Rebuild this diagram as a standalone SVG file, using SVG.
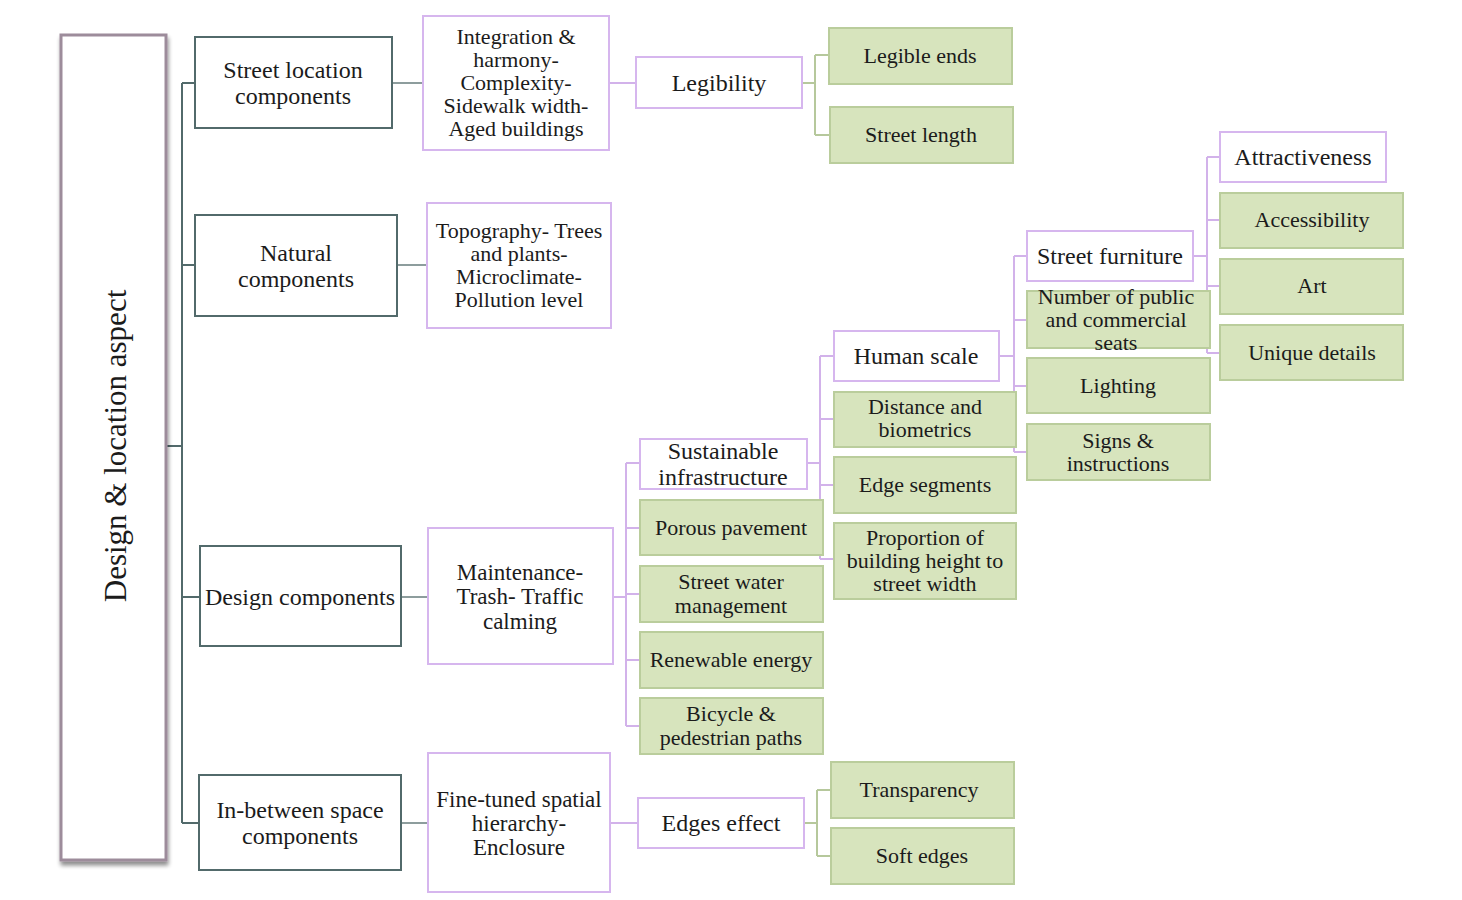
<svg xmlns="http://www.w3.org/2000/svg" width="1462" height="900" viewBox="0 0 1462 900">
<defs>
<filter id="sh" x="-10%" y="-5%" width="130%" height="110%">
<feGaussianBlur in="SourceAlpha" stdDeviation="2"/>
<feOffset dx="1" dy="4" result="o"/>
<feComponentTransfer><feFuncA type="linear" slope="0.45"/></feComponentTransfer>
<feMerge><feMergeNode/><feMergeNode in="SourceGraphic"/></feMerge>
</filter>
</defs>
<style>
text{font-family:"Liberation Serif","Times New Roman",serif;fill:#1b1b1b;text-anchor:middle}
.root{fill:#fff;stroke:#9d8c9b;stroke-width:3}
.l1{fill:#fff;stroke:#526a6b;stroke-width:2}
.pu{fill:#fff;stroke:#d6b6ee;stroke-width:2}
.gr{fill:#d7e4bd;stroke:#bacd9c;stroke-width:2}
.f31{font-size:31px}
.f24{font-size:24px}
.f23{font-size:23px}
.f22{font-size:22px}
.c0{fill:none;stroke:#526a6b;stroke-width:2}
.c1{fill:none;stroke:#8d9d9d;stroke-width:2}
.cp{fill:none;stroke:#d2b2ea;stroke-width:2}
.cg{fill:none;stroke:#b6c89c;stroke-width:2}
</style>
<rect width="1462" height="900" fill="#fff"/>

<g id="connectors">
<path class="c0" d="M166 446H182M182 83V823M182 83H195M182 265H195M182 597H200M182 823H199"/>
<path class="c1" d="M392 83H423M397 265H427M401 597H428M401 823H428"/>
<path class="cp" d="M609 83H636M610 823H638"/>
<path class="cg" d="M802 83H815M815 55V135M815 55H829M815 135H830"/>
<path class="cg" d="M804 823H817M817 790V856M817 790H831M817 856H831"/>
<path class="cp" d="M613 597H626M626 463V726M626 463H640M626 528H640M626 594H640M626 660H640M626 726H640"/>
<path class="cp" d="M807 463H820M820 356V559M820 356H834M820 419H834M820 485H834M820 559H834"/>
<path class="cp" d="M999 356H1014M1014 256V452M1014 256H1027M1014 320H1027M1014 386H1027M1014 452H1027"/>
<path class="cp" d="M1193 256H1207M1207 157V353M1207 157H1220M1207 220H1220M1207 286H1220M1207 353H1220"/>
</g>

<g id="root">
<rect class="root" x="61" y="35" width="105" height="825" filter="url(#sh)"/>
<text class="f31" x="115" y="457" transform="rotate(-90 115 446)">Design &amp; location aspect</text>
</g>

<g id="street-location">
<rect class="l1" x="195" y="37" width="197" height="91"/>
<text class="f24" x="293" y="78">Street location</text>
<text class="f24" x="293" y="104">components</text>
</g>
<g id="natural">
<rect class="l1" x="195" y="215" width="202" height="101"/>
<text class="f24" x="296" y="261">Natural</text>
<text class="f24" x="296" y="287">components</text>
</g>
<g id="design">
<rect class="l1" x="200" y="546" width="201" height="100"/>
<text class="f24" x="300" y="605">Design components</text>
</g>
<g id="inbetween">
<rect class="l1" x="199" y="775" width="202" height="95"/>
<text class="f24" x="300" y="818">In-between space</text>
<text class="f24" x="300" y="844">components</text>
</g>

<g id="integration">
<rect class="pu" x="423" y="16" width="186" height="134"/>
<text class="f22" x="516" y="44">Integration &amp;</text>
<text class="f22" x="516" y="67">harmony-</text>
<text class="f22" x="516" y="90">Complexity-</text>
<text class="f22" x="516" y="113">Sidewalk width-</text>
<text class="f22" x="516" y="136">Aged buildings</text>
</g>
<g id="topography">
<rect class="pu" x="427" y="203" width="184" height="125"/>
<text class="f22" x="519" y="238">Topography- Trees</text>
<text class="f22" x="519" y="261">and plants-</text>
<text class="f22" x="519" y="284">Microclimate-</text>
<text class="f22" x="519" y="307">Pollution level</text>
</g>
<g id="maintenance">
<rect class="pu" x="428" y="528" width="185" height="136"/>
<text class="f23" x="520" y="580">Maintenance-</text>
<text class="f23" x="520" y="604">Trash- Traffic</text>
<text class="f23" x="520" y="629">calming</text>
</g>
<g id="finetuned">
<rect class="pu" x="428" y="753" width="182" height="139"/>
<text class="f23" x="519" y="807">Fine-tuned spatial</text>
<text class="f23" x="519" y="831">hierarchy-</text>
<text class="f23" x="519" y="855">Enclosure</text>
</g>

<g id="legibility">
<rect class="pu" x="636" y="57" width="166" height="51"/>
<text class="f24" x="719" y="91">Legibility</text>
</g>
<g id="legible-ends">
<rect class="gr" x="829" y="28" width="183" height="56"/>
<text class="f22" x="920" y="63">Legible ends</text>
</g>
<g id="street-length">
<rect class="gr" x="830" y="107" width="183" height="56"/>
<text class="f22" x="921" y="142">Street length</text>
</g>

<g id="edges-effect">
<rect class="pu" x="638" y="798" width="166" height="50"/>
<text class="f24" x="721" y="831">Edges effect</text>
</g>
<g id="transparency">
<rect class="gr" x="831" y="762" width="183" height="56"/>
<text class="f22" x="919" y="797">Transparency</text>
</g>
<g id="soft-edges">
<rect class="gr" x="831" y="828" width="183" height="56"/>
<text class="f22" x="922" y="863">Soft edges</text>
</g>

<g id="sustainable">
<rect class="pu" x="640" y="439" width="167" height="50"/>
<text class="f24" x="723" y="459">Sustainable</text>
<text class="f24" x="723" y="485">infrastructure</text>
</g>
<g id="porous">
<rect class="gr" x="640" y="500" width="183" height="55"/>
<text class="f22" x="731" y="535">Porous pavement</text>
</g>
<g id="water">
<rect class="gr" x="640" y="566" width="183" height="56"/>
<text class="f22" x="731" y="589">Street water</text>
<text class="f22" x="731" y="613">management</text>
</g>
<g id="renewable">
<rect class="gr" x="640" y="632" width="183" height="56"/>
<text class="f22" x="731" y="667">Renewable energy</text>
</g>
<g id="bicycle">
<rect class="gr" x="640" y="698" width="183" height="56"/>
<text class="f22" x="731" y="721">Bicycle &amp;</text>
<text class="f22" x="731" y="745">pedestrian paths</text>
</g>

<g id="human-scale">
<rect class="pu" x="834" y="331" width="165" height="50"/>
<text class="f24" x="916" y="364">Human scale</text>
</g>
<g id="distance">
<rect class="gr" x="834" y="392" width="182" height="55"/>
<text class="f22" x="925" y="414">Distance and</text>
<text class="f22" x="925" y="437">biometrics</text>
</g>
<g id="edge-segments">
<rect class="gr" x="834" y="457" width="182" height="56"/>
<text class="f22" x="925" y="492">Edge segments</text>
</g>
<g id="proportion">
<rect class="gr" x="834" y="523" width="182" height="76"/>
<text class="f22" x="925" y="545">Proportion of</text>
<text class="f22" x="925" y="568">building height to</text>
<text class="f22" x="925" y="591">street width</text>
</g>

<g id="street-furniture">
<rect class="pu" x="1027" y="231" width="166" height="50"/>
<text class="f24" x="1110" y="264">Street furniture</text>
</g>
<g id="seats">
<rect class="gr" x="1027" y="291" width="183" height="57"/>
<text class="f22" x="1116" y="304">Number of public</text>
<text class="f22" x="1116" y="327">and commercial</text>
<text class="f22" x="1116" y="350">seats</text>
</g>
<g id="lighting">
<rect class="gr" x="1027" y="358" width="183" height="55"/>
<text class="f22" x="1118" y="393">Lighting</text>
</g>
<g id="signs">
<rect class="gr" x="1027" y="424" width="183" height="56"/>
<text class="f22" x="1118" y="448">Signs &amp;</text>
<text class="f22" x="1118" y="471">instructions</text>
</g>

<g id="attractiveness">
<rect class="pu" x="1220" y="132" width="166" height="50"/>
<text class="f24" x="1303" y="165">Attractiveness</text>
</g>
<g id="accessibility">
<rect class="gr" x="1220" y="193" width="183" height="55"/>
<text class="f22" x="1312" y="227">Accessibility</text>
</g>
<g id="art">
<rect class="gr" x="1220" y="259" width="183" height="55"/>
<text class="f22" x="1312" y="293">Art</text>
</g>
<g id="unique">
<rect class="gr" x="1220" y="325" width="183" height="55"/>
<text class="f22" x="1312" y="360">Unique details</text>
</g>
</svg>
